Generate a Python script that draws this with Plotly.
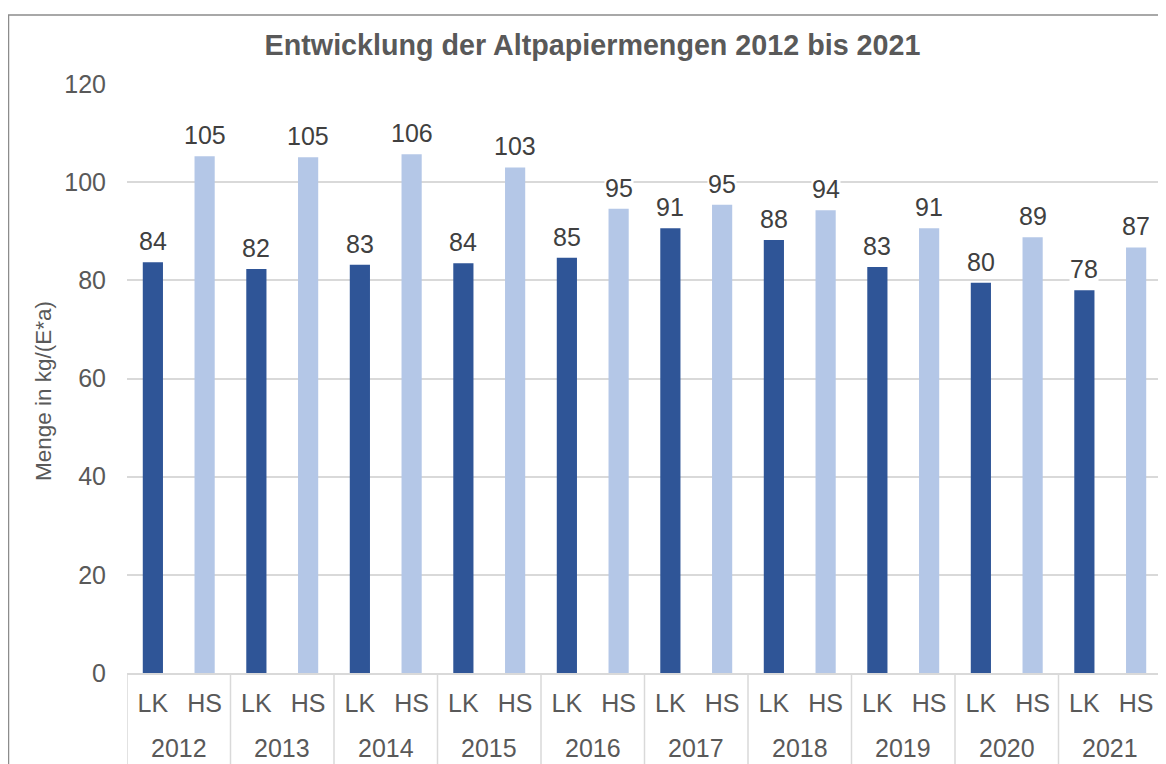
import plotly.graph_objects as go

# Altpapiermengen in kg/(E*a), LK = Landkreis, HS = Vergleich
jahre = ["2012", "2013", "2014", "2015", "2016", "2017", "2018", "2019", "2020", "2021"]
gebiete = ["LK", "HS"]
menge_lk = [83.7, 82.3, 83.2, 83.5, 84.6, 90.6, 88.2, 82.7, 79.5, 78.0]
menge_hs = [105.3, 105.1, 105.7, 103.0, 94.6, 95.4, 94.3, 90.6, 88.8, 86.7]

farben = {"LK": "#2F5597", "HS": "#B4C7E7"}
schrift = "Arial, Liberation Sans, sans-serif"

# interleaved: 2012 LK, 2012 HS, 2013 LK, ...
keys, tick_text, werte, bar_farben = [], [], [], []
for j, lk, hs in zip(jahre, menge_lk, menge_hs):
    for g, v in zip(gebiete, [lk, hs]):
        keys.append(f"{j} {g}")
        tick_text.append(g)
        werte.append(v)
        bar_farben.append(farben[g])

fig = go.Figure(go.Bar(
    x=keys,
    y=werte,
    marker=dict(color=bar_farben, line=dict(width=0)),
    hovertemplate="%{x}: %{y}<extra></extra>",
))

# page body has an 8px margin, so work in screenshot pixels and shift
OFF = 8
W, H = 1166 - OFF, 764 - OFF
ml, mr, mt, mb = 127 - OFF, 4, 84 - OFF, 764 - 673
pw, ph = W - ml - mr, H - mt - mb

def px_x(p):
    return (p - OFF - ml) / pw

def px_y(p):
    return (H - mb - (p - OFF)) / ph

# Datenbeschriftungen
annotations = []
for k, v in zip(keys, werte):
    annotations.append(dict(
        x=k, y=v, xref="x", yref="y",
        text=f"{round(v + 1e-9):d}", showarrow=False,
        yanchor="bottom", yshift=6,
        bgcolor="white", borderpad=0,
        font=dict(size=25, color="#404040", family=schrift),
    ))

# Jahreszahlen unter den Gruppen
for i, j in enumerate(jahre):
    annotations.append(dict(
        x=2 * i + 0.5, y=px_y(748), xref="x", yref="paper",
        text=j, showarrow=False, yanchor="middle",
        font=dict(size=25, color="#595959", family=schrift),
    ))

# Achsentitel
annotations.append(dict(
    x=px_x(44), y=px_y(391), xref="paper", yref="paper",
    text="Menge in kg/(E*a)", showarrow=False, textangle=-90,
    xanchor="center", yanchor="middle",
    font=dict(size=22.5, color="#595959", family=schrift),
))

shapes = [dict(
    type="rect", xref="paper", yref="paper",
    x0=px_x(8.5), x1=px_x(1175), y0=px_y(15), y1=px_y(780),
    line=dict(color="#8C8C8C", width=1.5),
    fillcolor="rgba(0,0,0,0)",
    layer="below",
)]
for i in range(len(jahre) + 1):
    shapes.append(dict(
        type="line", xref="x", yref="paper",
        x0=2 * i - 0.5, x1=2 * i - 0.5, y0=0, y1=px_y(775),
        line=dict(color="#D9D9D9", width=1.5),
    ))

fig.update_layout(
    width=W, height=H,
    margin=dict(l=ml, r=mr, t=mt, b=mb, autoexpand=False),
    paper_bgcolor="white",
    plot_bgcolor="white",
    showlegend=False,
    bargap=0.61,
    font=dict(family=schrift, color="#595959", size=25),
    title=dict(
        text="<b>Entwicklung der Altpapiermengen 2012 bis 2021</b>",
        font=dict(size=28.7, color="#595959", family=schrift),
        x=(592.5 - OFF) / W, xanchor="center",
        y=1 - (45 - OFF) / H, yanchor="middle",
        xref="container", yref="container",
    ),
    xaxis=dict(
        type="category",
        range=[-0.5, len(keys) - 0.5],
        tickvals=keys, ticktext=tick_text,
        showline=True, linecolor="#D9D9D9", linewidth=1.5,
        tickfont=dict(size=25, color="#595959"),
        ticklabelstandoff=7,
        showgrid=False,
        ticks="",
    ),
    yaxis=dict(
        range=[0, 120],
        dtick=20,
        showgrid=True, gridcolor="#D9D9D9", gridwidth=1.5,
        zeroline=False,
        showline=False,
        ticks="",
        ticklabelstandoff=20,
        tickfont=dict(size=25, color="#595959"),
    ),
    annotations=annotations,
    shapes=shapes,
)

fig.write_html("out.html")
